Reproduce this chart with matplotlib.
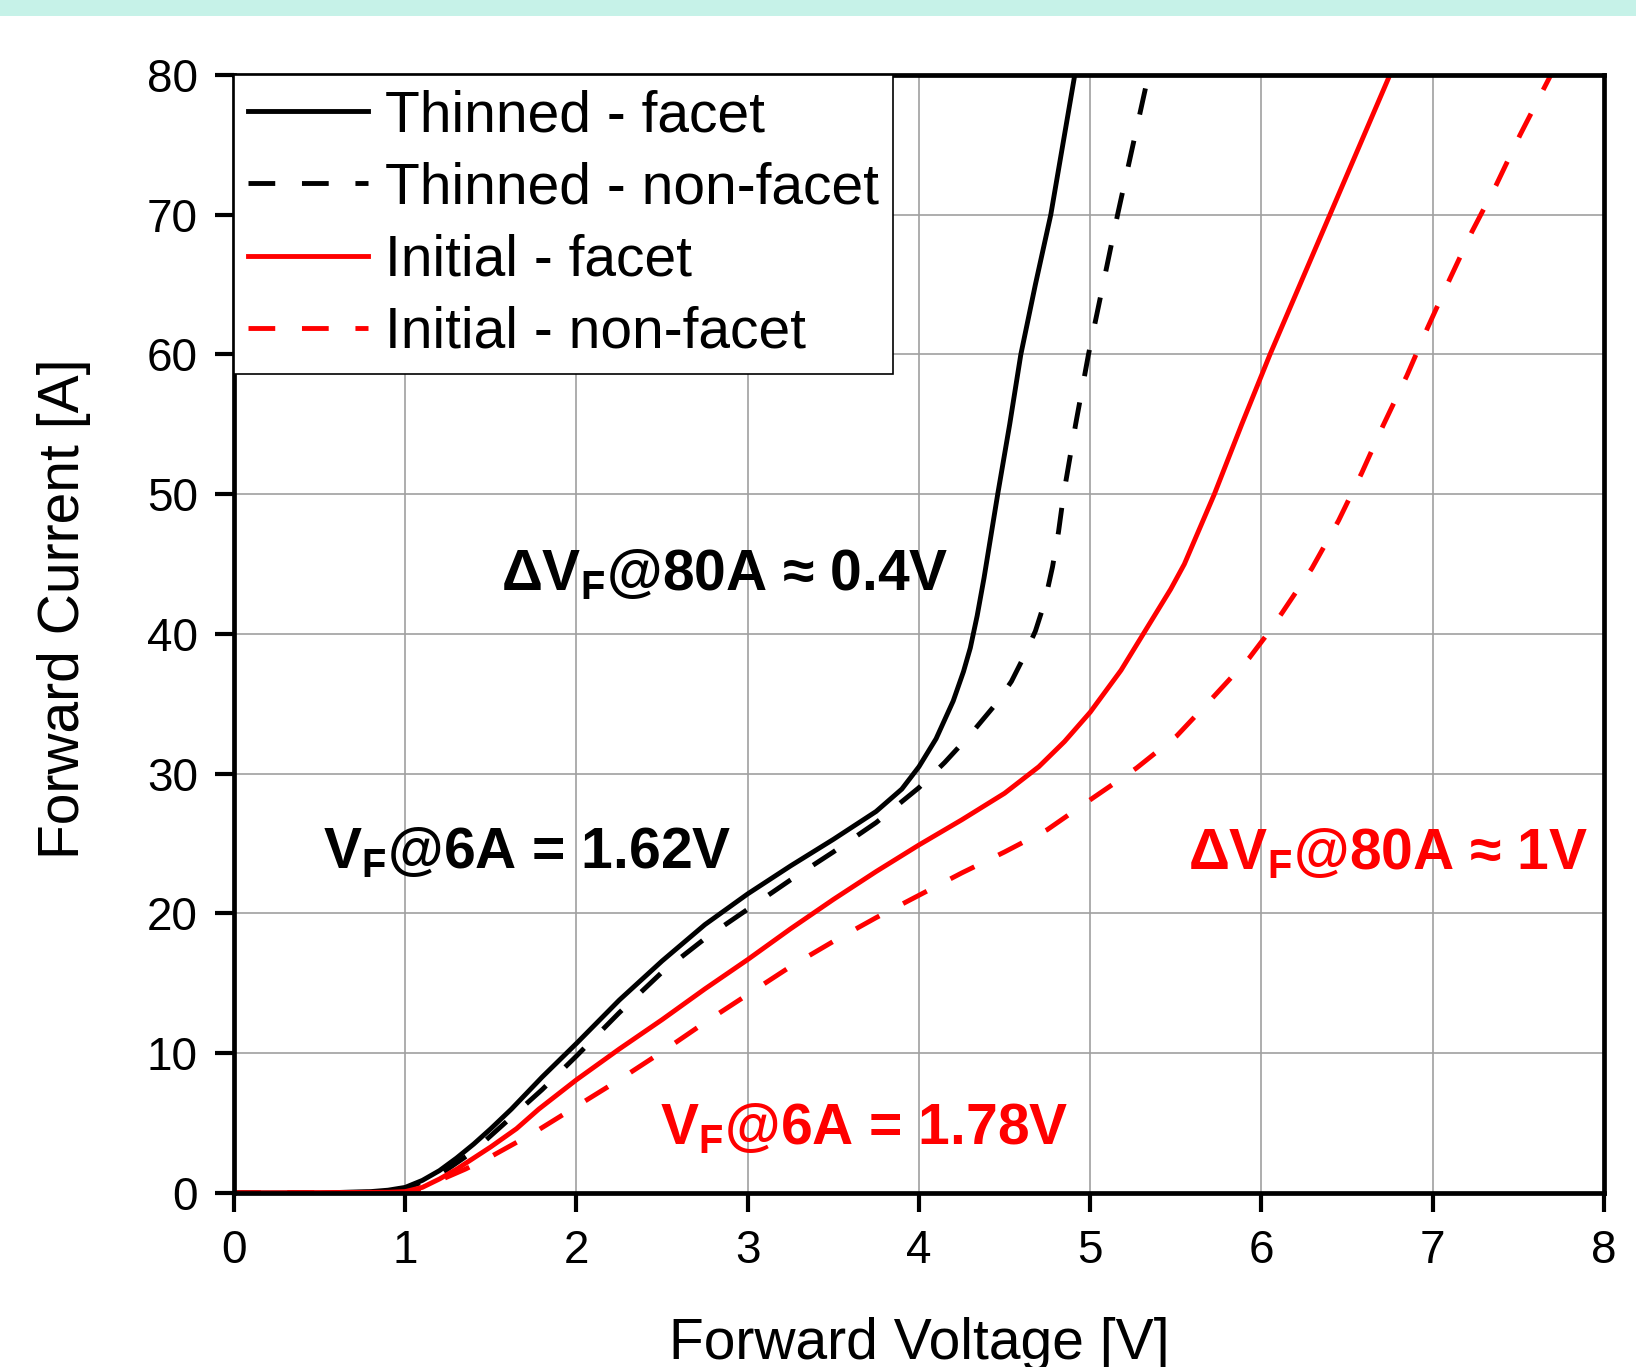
import matplotlib
matplotlib.use("Agg")
import matplotlib.pyplot as plt
from matplotlib.patches import Rectangle

plt.rcParams["font.family"] = ["Liberation Sans", "DejaVu Sans"]
plt.rcParams["mathtext.fontset"] = "custom"
plt.rcParams["mathtext.rm"] = "Liberation Sans"

# Thinned - facet
thin_facet_v = [0.0, 0.5, 0.8, 0.9, 1.0, 1.1, 1.2, 1.3, 1.4, 1.5, 1.62, 1.8, 2.0,
                2.25, 2.5, 2.75, 3.0, 3.25, 3.5, 3.75, 3.9, 4.0, 4.1, 4.2, 4.26,
                4.30, 4.34, 4.38, 4.42, 4.46, 4.53, 4.595, 4.68, 4.77, 4.84, 4.91]
thin_facet_i = [0.0, 0.0, 0.1, 0.2, 0.4, 0.9, 1.6, 2.5, 3.5, 4.6, 6.0, 8.3, 10.7,
                13.8, 16.6, 19.2, 21.4, 23.4, 25.3, 27.3, 28.9, 30.5, 32.5, 35.2, 37.3,
                39.0, 41.3, 44.0, 47.0, 50.0, 55.0, 60.0, 65.0, 70.0, 75.0, 80.0]

# Thinned - non-facet
thin_nonfacet_v = [0.0, 0.8, 1.0, 1.2, 1.4, 1.6, 1.8, 2.0, 2.25, 2.5, 2.75, 3.0,
                   3.25, 3.5, 3.75, 4.0, 4.15, 4.3, 4.45, 4.54, 4.61, 4.68, 4.735,
                   4.78, 4.815, 4.845, 4.915, 4.99, 5.075, 5.16, 5.25, 5.34]
thin_nonfacet_i = [0.0, 0.05, 0.3, 1.3, 3.0, 5.2, 7.4, 9.8, 12.9, 15.8, 18.2, 20.3,
                   22.4, 24.4, 26.5, 29.0, 30.8, 32.8, 35.0, 36.6, 38.3, 40.2, 42.3,
                   44.8, 47.3, 50.0, 55.0, 60.0, 65.0, 70.0, 75.0, 80.0]

# Initial - facet
init_facet_v = [0.0, 0.9, 1.0, 1.1, 1.2, 1.3, 1.4, 1.5, 1.65, 1.78, 2.0, 2.25, 2.5,
                2.75, 3.0, 3.25, 3.5, 3.75, 4.0, 4.25, 4.5, 4.7, 4.85, 5.0, 5.18,
                5.31, 5.47, 5.55, 5.725, 5.885, 6.05, 6.225, 6.40, 6.575, 6.75]
init_facet_i = [0.0, 0.05, 0.1, 0.4, 1.0, 1.7, 2.5, 3.3, 4.6, 6.0, 8.1, 10.3, 12.4,
                14.6, 16.7, 18.9, 21.0, 23.0, 24.9, 26.7, 28.6, 30.5, 32.3, 34.4, 37.4,
                40.0, 43.2, 45.0, 50.0, 55.0, 60.0, 65.0, 70.0, 75.0, 80.0]

# Initial - non-facet
init_nonfacet_v = [0.0, 1.0, 1.1, 1.2, 1.35, 1.5, 1.75, 2.0, 2.25, 2.5, 2.75, 3.0,
                   3.25, 3.5, 3.75, 4.0, 4.25, 4.5, 4.75, 5.02, 5.27, 5.505, 5.72,
                   5.93, 6.035, 6.12, 6.295, 6.45, 6.585, 6.71, 6.85, 6.97, 7.10,
                   7.23, 7.37, 7.51, 7.69]
init_nonfacet_i = [0.0, 0.0, 0.3, 0.9, 1.7, 2.6, 4.3, 6.2, 8.1, 10.1, 12.2, 14.2,
                   16.2, 18.0, 19.7, 21.3, 22.9, 24.4, 26.0, 28.3, 30.4, 32.7, 35.5,
                   38.3, 40.0, 41.5, 44.7, 48.1, 51.5, 54.9, 58.5, 61.9, 65.4,
                   68.8, 72.1, 75.7, 80.0]

x_ticks = [0, 1, 2, 3, 4, 5, 6, 7, 8]
y_ticks = [0, 10, 20, 30, 40, 50, 60, 70, 80]

fig = plt.figure(figsize=(16.36, 13.67), dpi=100)
fig.add_artist(Rectangle((0, 1 - 16 / 1367), 1, 16 / 1367, transform=fig.transFigure,
                         color="#c6f2e8", lw=0))
ax = fig.add_axes([0.1430, 0.1273, 0.8374, 0.8179])

lw = 3.5
dash = [5.5, 5.5]
ax.plot(thin_facet_v, thin_facet_i, color="black", lw=lw, label="Thinned - facet")
ax.plot(thin_nonfacet_v, thin_nonfacet_i, color="black", lw=lw, dashes=dash,
        label="Thinned - non-facet")
ax.plot(init_facet_v, init_facet_i, color="red", lw=lw, label="Initial - facet")
ax.plot(init_nonfacet_v, init_nonfacet_i, color="red", lw=lw, dashes=dash,
        label="Initial - non-facet")

ax.set_xlim(0, 8)
ax.set_ylim(0, 80)
ax.set_xticks(x_ticks)
ax.set_yticks(y_ticks)
ax.grid(True, color="#a0a0a0", lw=1.2)
ax.set_axisbelow(True)
for s in ax.spines.values():
    s.set_linewidth(3.4)
ax.tick_params(direction="out", length=14, width=3.0, labelsize=33, pad=12,
               top=False, right=False)

ax.set_xlabel("Forward Voltage [V]", fontsize=41)
ax.set_ylabel("Forward Current [A]", fontsize=41)
ax.xaxis.set_label_coords(0.5, -0.111)
ax.yaxis.set_label_coords(-0.104, 0.523)

leg = ax.legend(loc="upper left", borderaxespad=0, fontsize=41, fancybox=False,
                framealpha=1, edgecolor="black", handlelength=2.1,
                handletextpad=0.3, labelspacing=0.32, borderpad=0.25)
leg.get_frame().set_linewidth(1.2)

ann = dict(fontsize=41, fontweight="bold", ha="left", va="baseline")
ax.text(1.56, 43.1, r"ΔV$_\mathregular{F}$@80A ≈ 0.4V", color="black", **ann)
ax.text(0.52, 23.2, r"V$_\mathregular{F}$@6A = 1.62V", color="black", **ann)
ax.text(5.57, 23.15, r"ΔV$_\mathregular{F}$@80A ≈ 1V", color="red", **ann)
ax.text(2.49, 3.44, r"V$_\mathregular{F}$@6A = 1.78V", color="red", **ann)

fig.savefig("out.png", dpi=100)
